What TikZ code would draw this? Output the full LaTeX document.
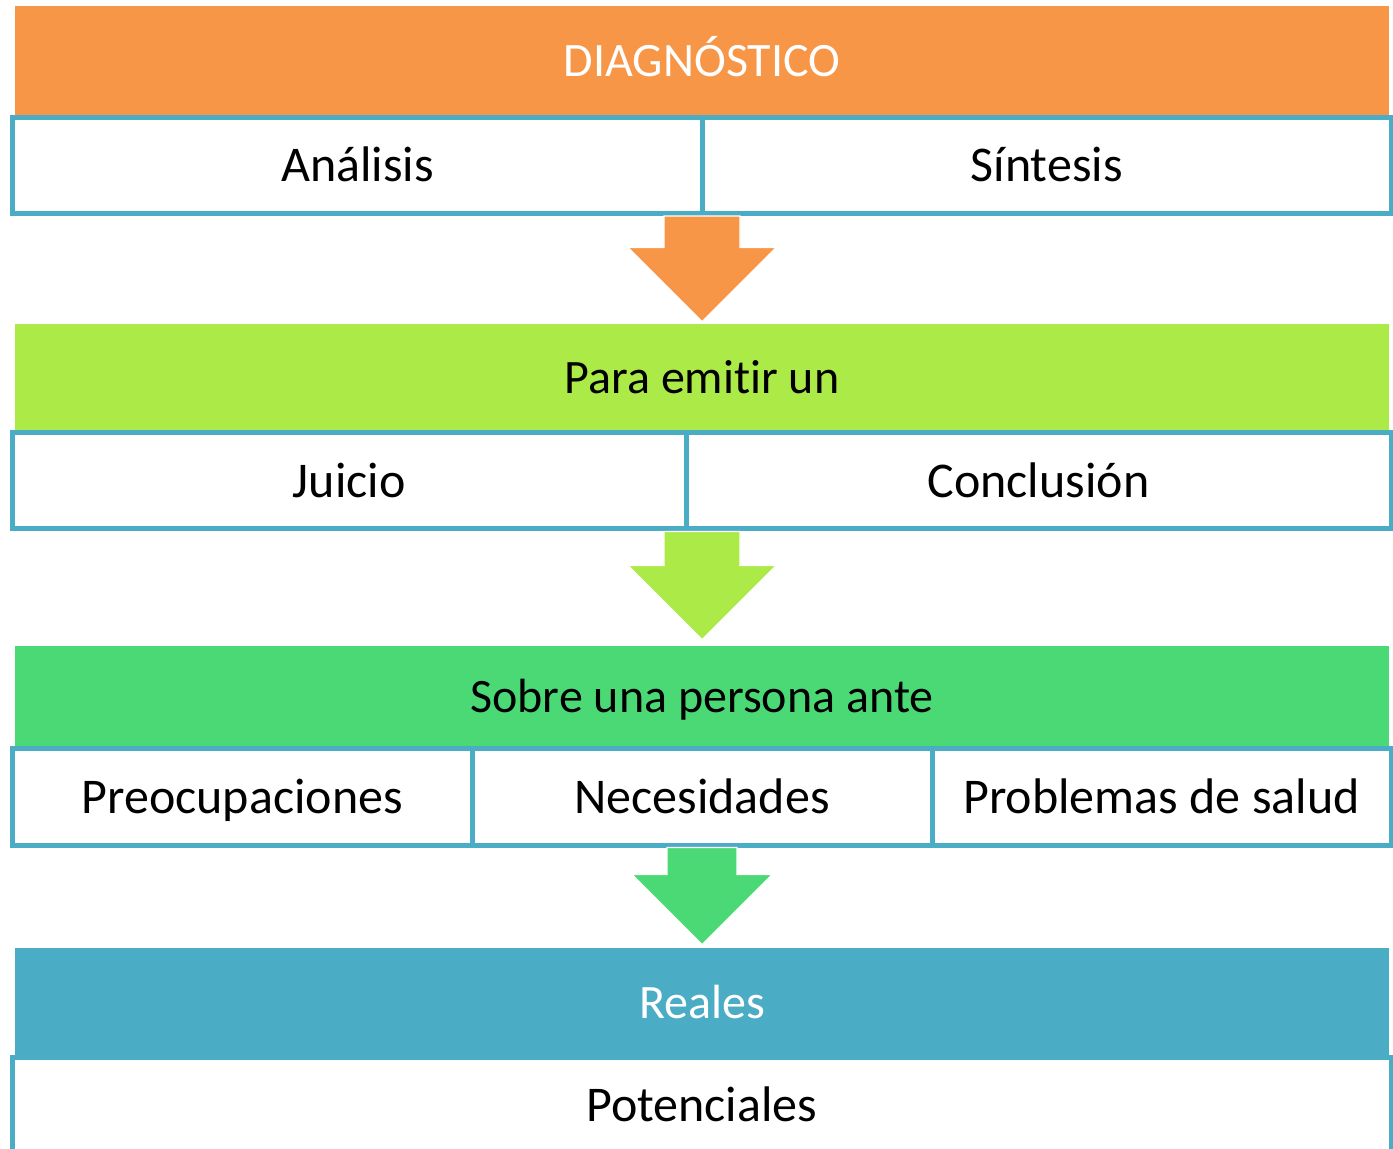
\documentclass[tikz,border=0pt]{standalone}
\usepackage{fontspec}
\setmainfont[Ligatures=NoCommon]{Carlito}
\usetikzlibrary{calc}
\definecolor{naranja}{HTML}{F79646}
\definecolor{lima}{HTML}{ABEA47}
\definecolor{verde}{HTML}{4AD975}
\definecolor{celeste}{HTML}{4BACC6}

% block arrow: colour, start, tip, half shaft, half head
\newcommand{\flecha}[5]{%
  \filldraw[#1,draw=white,line width=0.6pt] let \p1=(#2), \p2=(#3) in
    (\x1-#4,\y1) -- (\x1-#4,\y2+#5) -- (\x1-#5,\y2+#5) -- (\x1,\y2)
    -- (\x1+#5,\y2+#5) -- (\x1+#4,\y2+#5) -- (\x1+#4,\y1) -- cycle;}

\begin{document}
\begin{tikzpicture}[
      x=0.5pt,y=-0.5pt,
      every node/.style={font=\fontsize{25}{30}\selectfont,inner sep=0pt,text height=16.1pt,text depth=0pt},
      banda/.style={fill=#1,minimum width=687pt,font=\fontsize{24}{29}\selectfont,text height=15.5pt},
      celda/.style={draw=celeste,line width=2.5pt,fill=white,minimum height=48pt}
    ]
      \clip (0,0) rectangle (1393,1149);
      \fill[white] (0,0) rectangle (1393,1149);
      % bands
      \node[banda=naranja,minimum height=55.5pt,text=white] (diag) at (702,61.5) {DIAGNÓSTICO};
      \node[banda=lima,minimum height=54.5pt] (emitir) at (702,378.5) {Para emitir un};
      \node[banda=verde,minimum height=51.5pt] (sobre) at (702,697.5) {Sobre una persona ante};
      \node[banda=celeste,minimum height=54.5pt,text=white] (reales) at (702,1002.5) {Reales};
      % cells
      \node[celda,minimum width=345pt] (analisis) at (357.5,165.5) {Análisis};
      \node[celda,minimum width=344.25pt] (sintesis) at (1046.75,165.5) {Síntesis};
      \node[celda,minimum width=336.75pt] (juicio) at (349.25,481) {Juicio};
      \node[celda,minimum width=352.5pt] (conclusion) at (1038.5,481) {Conclusión};
      \node[celda,minimum width=229.75pt] (preocup) at (242.25,797) {Preocupaciones};
      \node[celda,minimum width=230pt] (necesid) at (702,797) {Necesidades};
      \node[celda,minimum width=229.5pt] (problemas) at (1161.5,797) {Problemas de salud};
      \node[celda,minimum width=689.25pt] (potenc) at (701.75,1105) {Potenciales};
      % arrows
      \flecha{naranja}{diag.center |- analisis.south}{[yshift=1pt]emitir.north}{19pt}{37pt}
      \flecha{lima}{emitir.center |- juicio.south}{[yshift=3pt]sobre.north}{19pt}{37pt}
      \flecha{verde}{sobre.center |- necesid.south}{[yshift=1.5pt]reales.north}{17.5pt}{35pt}
    \end{tikzpicture}
\end{document}
